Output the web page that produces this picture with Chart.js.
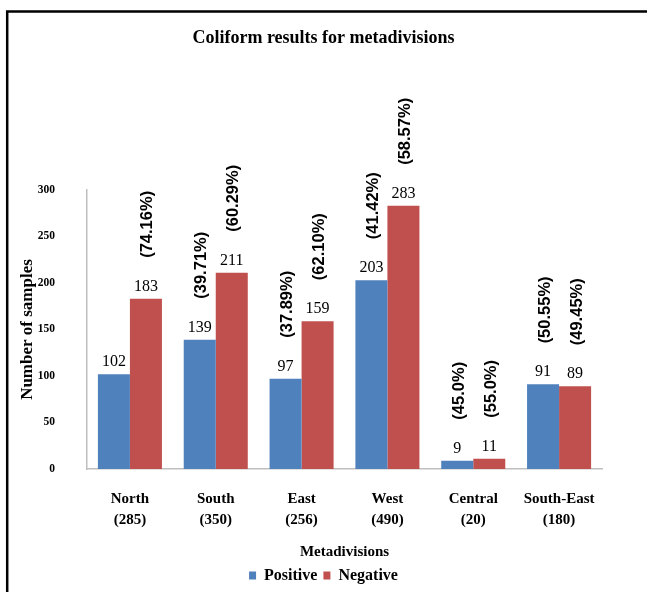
<!DOCTYPE html>
<html>
<head>
<meta charset="utf-8">
<title>Coliform results for metadivisions</title>
<script src="https://cdn.jsdelivr.net/npm/chart.js@4.4.1/dist/chart.umd.min.js"></script>
<style>
  html, body { margin: 0; padding: 0; background: #ffffff; }
  canvas { display: block; }
</style>
</head>
<body>
<canvas id="chart" width="647" height="592"></canvas>
<script>
// Metadivisions and the number of samples tested in each
const divisions = ['North', 'South', 'East', 'West', 'Central', 'South-East'];
const divisionTotals = [285, 350, 256, 490, 20, 180];

// Coliform test outcomes (number of samples)
const positiveCounts = [102, 139, 97, 203, 9, 91];
const negativeCounts = [183, 211, 159, 283, 11, 89];

// Share of each outcome as printed over the bars
const positiveShares = [null, '39.71%', '37.89%', '41.42%', '45.0%', '50.55%'];
const negativeShares = ['74.16%', '60.29%', '62.10%', '58.57%', '55.0%', '49.45%'];

// Count axis ticks
const countTicks = [0, 50, 100, 150, 200, 250, 300];

const SERIF = '"Liberation Serif", "Times New Roman", serif';
const SANS = '"Liberation Sans", Arial, sans-serif';

const categoryLabels = divisions.map((name, i) => [name, '(' + divisionTotals[i] + ')']);

// White page with a dark frame around the figure
const framePlugin = {
  id: 'frame',
  beforeDraw(chart) {
    const ctx = chart.ctx;
    ctx.save();
    ctx.fillStyle = '#ffffff';
    ctx.fillRect(0, 0, chart.width, chart.height);
    ctx.strokeStyle = '#000000';
    ctx.lineWidth = 2.5;
    ctx.strokeRect(7.2, 11.5, 800, 800);
    ctx.restore();
  }
};

// Fixed-height legend strip at the bottom
const legendHeightPlugin = {
  id: 'legendHeight',
  beforeLayout(chart) {
    const legend = chart.legend;
    if (legend && !legend._fixedFit) {
      const fit = legend.fit;
      legend.fit = function () {
        fit.call(this);
        this.height = 30.5;
      };
      legend._fixedFit = true;
    }
  }
};

// Count above each bar, with the rotated share above that
const barLabelPlugin = {
  id: 'barLabels',
  afterDatasetsDraw(chart) {
    const ctx = chart.ctx;
    const shares = [positiveShares, negativeShares];
    chart.data.datasets.forEach((ds, di) => {
      const meta = chart.getDatasetMeta(di);
      meta.data.forEach((bar, i) => {
        const value = ds.data[i];
        ctx.save();
        ctx.fillStyle = '#000000';
        ctx.font = '16px ' + SERIF;
        ctx.textAlign = 'center';
        ctx.textBaseline = 'alphabetic';
        ctx.fillText(String(value), bar.x, bar.y - 8);
        ctx.restore();

        const share = shares[di][i];
        if (share) {
          ctx.save();
          ctx.fillStyle = '#000000';
          ctx.font = 'bold 16.5px ' + SANS;
          ctx.translate(bar.x + 2, bar.y - 41);
          ctx.rotate(-Math.PI / 2);
          ctx.textAlign = 'left';
          ctx.textBaseline = 'middle';
          ctx.fillText('(' + share + ')', 0, 0);
          ctx.restore();
        }
      });
    });
  }
};

new Chart(document.getElementById('chart'), {
  type: 'bar',
  data: {
    labels: categoryLabels,
    datasets: [
      {
        label: 'Positive',
        data: positiveCounts,
        backgroundColor: '#4F81BD',
        borderWidth: 0,
        categoryPercentage: 0.746,
        barPercentage: 1.0
      },
      {
        label: 'Negative',
        data: negativeCounts,
        backgroundColor: '#C0504D',
        borderWidth: 0,
        categoryPercentage: 0.746,
        barPercentage: 1.0
      }
    ]
  },
  options: {
    responsive: false,
    animation: false,
    devicePixelRatio: 1,
    layout: { padding: { left: 0, right: 0, top: 0, bottom: 0 } },
    plugins: {
      title: {
        display: true,
        text: 'Coliform results for metadivisions',
        color: '#000000',
        font: { family: SERIF, size: 18, weight: 'bold', lineHeight: 1.2 },
        padding: { top: 28, bottom: 140.4 }
      },
      legend: {
        position: 'bottom',
        labels: {
          color: '#000000',
          font: { family: SERIF, size: 16, weight: 'bold' },
          boxWidth: 7,
          boxHeight: 8,
          padding: 6
        }
      },
      tooltip: { enabled: false }
    },
    scales: {
      x: {
        grid: { display: false, drawTicks: false },
        border: { display: true, color: '#BFBFBF', width: 1.5 },
        ticks: {
          color: '#000000',
          font: { family: SERIF, size: 15, weight: 'bold', lineHeight: 1.4 },
          padding: 20,
          maxRotation: 0,
          autoSkip: false
        },
        title: {
          display: true,
          text: 'Metadivisions',
          color: '#000000',
          font: { family: SERIF, size: 15, weight: 'bold', lineHeight: 1.2 },
          padding: { top: 0, bottom: 0.5 }
        },
        afterFit(scale) { scale.height = 92.5; }
      },
      y: {
        min: 0,
        max: 300,
        afterBuildTicks(scale) { scale.ticks = countTicks.map(v => ({ value: v })); },
        grid: { display: false, drawTicks: false },
        border: { display: true, color: '#BFBFBF', width: 1.5 },
        ticks: {
          color: '#000000',
          font: { family: SERIF, size: 11.5, weight: 'bold' },
          padding: 32
        },
        title: {
          display: true,
          text: 'Number of samples',
          color: '#000000',
          font: { family: SERIF, size: 17, weight: 'bold', lineHeight: 1.2 },
          padding: { top: 17.8, bottom: 0 }
        },
        afterFit(scale) { scale.width = 87; }
      },
      spacer: {
        position: 'right',
        display: true,
        grid: { display: false, drawTicks: false },
        border: { display: false },
        ticks: { display: false },
        afterFit(scale) { scale.width = 45; }
      }
    }
  },
  plugins: [framePlugin, legendHeightPlugin, barLabelPlugin]
});
</script>
</body>
</html>
